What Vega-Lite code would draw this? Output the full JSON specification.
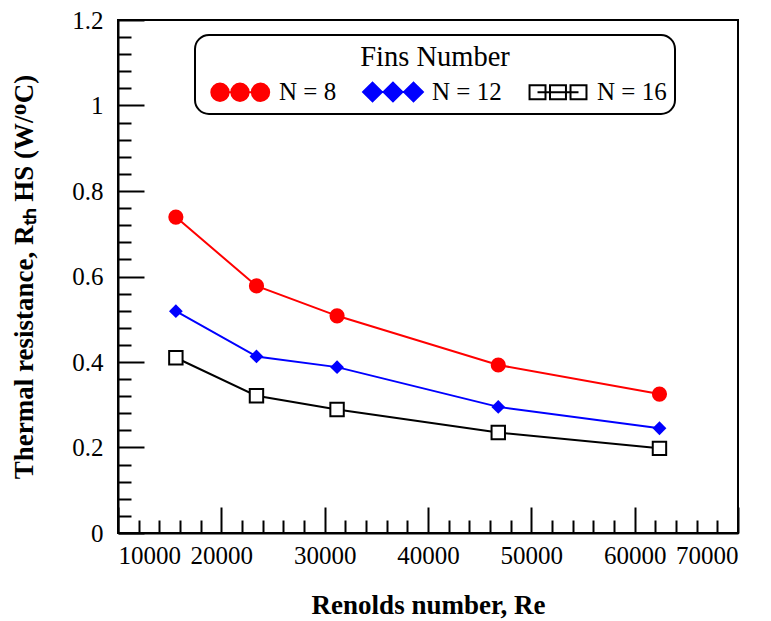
{
  "$schema": "https://vega.github.io/schema/vega-lite/v6.json",
  "width": 620,
  "height": 513,
  "autosize": {"type": "none"},
  "padding": {"left": 118, "top": 20, "right": 33, "bottom": 88},
  "config": {
    "font": "Liberation Serif",
    "view": {"stroke": "black", "strokeWidth": 2},
    "style": {"guide-label": {"font": "Liberation Serif"}, "guide-title": {"font": "Liberation Serif"}},
    "axis": {"labelFont": "Liberation Serif", "titleFont": "Liberation Serif"},
    "legend": {"labelFont": "Liberation Serif", "titleFont": "Liberation Serif"}
  },
  "data": {
    "values": [
      {"Re": 15600, "R": 0.739, "N": "N = 8"},
      {"Re": 23400, "R": 0.578, "N": "N = 8"},
      {"Re": 31200, "R": 0.508, "N": "N = 8"},
      {"Re": 46800, "R": 0.393, "N": "N = 8"},
      {"Re": 62400, "R": 0.325, "N": "N = 8"},
      {"Re": 15600, "R": 0.519, "N": "N = 12"},
      {"Re": 23400, "R": 0.413, "N": "N = 12"},
      {"Re": 31200, "R": 0.388, "N": "N = 12"},
      {"Re": 46800, "R": 0.295, "N": "N = 12"},
      {"Re": 62400, "R": 0.245, "N": "N = 12"},
      {"Re": 15600, "R": 0.41, "N": "N = 16"},
      {"Re": 23400, "R": 0.321, "N": "N = 16"},
      {"Re": 31200, "R": 0.289, "N": "N = 16"},
      {"Re": 46800, "R": 0.235, "N": "N = 16"},
      {"Re": 62400, "R": 0.198, "N": "N = 16"}
    ]
  },
  "resolve": {"axis": {"x": "independent", "y": "independent"}},
  "layer": [
    {
      "mark": {"type": "line", "strokeWidth": 2},
      "encoding": {
        "x": {
          "field": "Re", "type": "quantitative",
          "scale": {"domain": [10000, 70000], "nice": false, "zero": false},
          "axis": {
            "orient": "bottom",
            "values": [10000, 20000, 30000, 40000, 50000, 60000, 70000],
            "format": "d", "grid": false,
            "tickSize": -26, "tickWidth": 2, "tickColor": "black",
            "domainColor": "black", "domainWidth": 2,
            "labelFont": "Liberation Serif",
            "labelFontSize": 25, "labelColor": "black", "labelPadding": 36,
            "title": "Renolds number, Re", "titleFont": "Liberation Serif", "titleFontSize": 27, "titleFontWeight": "bold",
            "titleColor": "black", "titlePadding": 24
          }
        },
        "y": {
          "field": "R", "type": "quantitative",
          "scale": {"domain": [0, 1.2], "nice": false},
          "axis": {
            "orient": "left",
            "values": [0, 0.2, 0.4, 0.6, 0.8, 1, 1.2],
            "format": "~g", "grid": false,
            "tickSize": -26, "tickWidth": 2, "tickColor": "black",
            "domainColor": "black", "domainWidth": 2,
            "labelFont": "Liberation Serif",
            "labelFontSize": 25, "labelColor": "black", "labelPadding": 41,
            "title": "Thermal resistance, Rₜₕ HS (W/ᴼC)", "titleFont": "Liberation Serif", "titleFontSize": 27, "titleFontWeight": "bold",
            "titleColor": "black", "titlePadding": 33
          }
        },
        "color": {
          "field": "N", "type": "nominal",
          "scale": {"domain": ["N = 8", "N = 12", "N = 16"], "range": ["#ff0000", "#0000ff", "#000000"]},
          "legend": {
            "orient": "none", "legendX": 77, "legendY": 15, "direction": "horizontal",
            "title": "Fins Number", "titleFont": "Liberation Serif", "titleFontSize": 28.5, "titleFontWeight": "normal", "titleColor": "black",
            "titleAnchor": "middle", "titlePadding": 8,
            "labelFont": "Liberation Serif", "labelFontSize": 25, "labelColor": "black", "labelOffset": 51,
            "symbolSize": 144, "symbolStrokeWidth": 2, "symbolType": "circle", "columnPadding": 19,
            "padding": 8, "strokeColor": "black", "cornerRadius": 14, "fillColor": "white",
            "encode": {
              "legend": {"update": {"strokeWidth": {"value": 2}}},
              "symbols": {
                "update": {
                  "shape": {"signal": "datum.value === 'N = 8' ? 'M0.67,0L7.5,0M-0.7,0A1.45,1.45 0 1,0 2.2,0A1.45,1.45 0 1,0 -0.7,0ZM2.63,0A1.45,1.45 0 1,0 5.53,0A1.45,1.45 0 1,0 2.63,0ZM6.05,0A1.45,1.45 0 1,0 8.95,0A1.45,1.45 0 1,0 6.05,0Z' : datum.value === 'N = 12' ? 'M0.67,0L7.5,0M-0.9,0L0.67,-1.57L2.24,0L0.67,1.57ZM2.51,0L4.08,-1.57L5.65,0L4.08,1.57ZM5.93,0L7.5,-1.57L9.07,0L7.5,1.57Z' : 'M0.67,0L7.5,0M-0.66,-1.17H2V1.17H-0.66ZM2.75,-1.17H5.41V1.17H2.75ZM6.17,-1.17H8.83V1.17H6.17Z'"},
                  "fill": {"signal": "datum.value === 'N = 8' ? '#ff0000' : datum.value === 'N = 12' ? '#0000ff' : 'transparent'"},
                  "stroke": {"signal": "datum.value === 'N = 8' ? '#ff0000' : datum.value === 'N = 12' ? '#0000ff' : '#000000'"},
                  "strokeWidth": {"value": 2},
                  "opacity": {"value": 1}
                }
              }
            }
          }
        }
      }
    },
    {
      "transform": [{"filter": "datum.N === 'N = 8'"}],
      "mark": {"type": "point", "shape": "circle", "filled": true, "color": "#ff0000", "size": 230, "opacity": 1},
      "encoding": {
        "x": {
          "field": "Re", "type": "quantitative",
          "scale": {"domain": [10000, 70000], "nice": false, "zero": false},
          "axis": {
            "orient": "bottom",
            "values": [12000, 14000, 16000, 18000, 22000, 24000, 26000, 28000, 32000, 34000, 36000, 38000, 42000, 44000, 46000, 48000, 52000, 54000, 56000, 58000, 62000, 64000, 66000, 68000],
            "labels": false, "domain": false, "grid": false, "title": null,
            "tickSize": -13, "tickWidth": 2, "tickColor": "black"
          }
        },
        "y": {
          "field": "R", "type": "quantitative",
          "scale": {"domain": [0, 1.2], "nice": false},
          "axis": {
            "orient": "left",
            "values": [0.04, 0.08, 0.12, 0.16, 0.24, 0.28, 0.32, 0.36, 0.44, 0.48, 0.52, 0.56, 0.64, 0.68, 0.72, 0.76, 0.84, 0.88, 0.92, 0.96, 1.04, 1.08, 1.12, 1.16],
            "labels": false, "domain": false, "grid": false, "title": null,
            "tickSize": -13, "tickWidth": 2, "tickColor": "black"
          }
        }
      }
    },
    {
      "transform": [{"filter": "datum.N === 'N = 12'"}],
      "mark": {"type": "point", "shape": "diamond", "filled": true, "color": "#0000ff", "size": 190, "opacity": 1},
      "encoding": {
        "x": {"field": "Re", "type": "quantitative", "scale": {"domain": [10000, 70000], "nice": false, "zero": false}, "axis": null},
        "y": {"field": "R", "type": "quantitative", "scale": {"domain": [0, 1.2], "nice": false}, "axis": null}
      }
    },
    {
      "transform": [{"filter": "datum.N === 'N = 16'"}],
      "mark": {"type": "point", "shape": "square", "filled": false, "stroke": "#000000", "fill": "#ffffff", "strokeWidth": 2, "size": 180, "opacity": 1},
      "encoding": {
        "x": {"field": "Re", "type": "quantitative", "scale": {"domain": [10000, 70000], "nice": false, "zero": false}, "axis": null},
        "y": {"field": "R", "type": "quantitative", "scale": {"domain": [0, 1.2], "nice": false}, "axis": null}
      }
    }
  ]
}
